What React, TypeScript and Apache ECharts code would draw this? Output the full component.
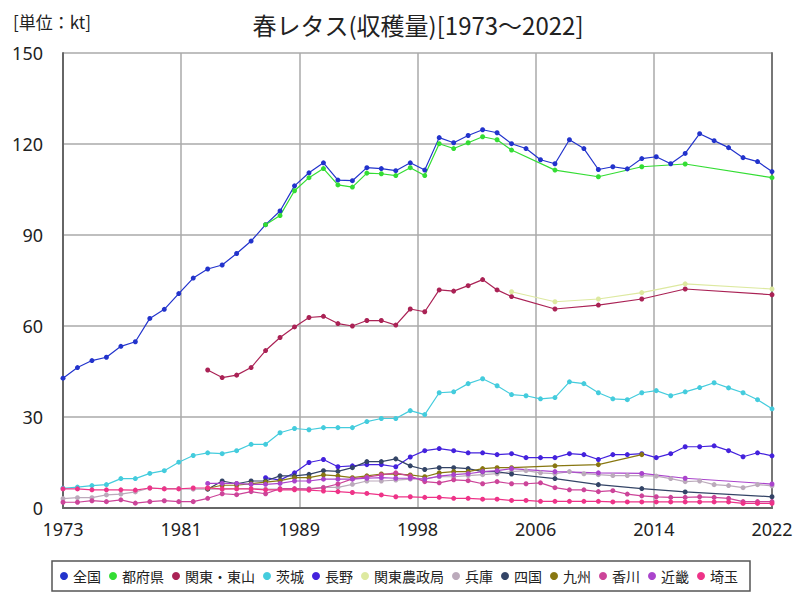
import React, { useEffect, useRef } from "react";
import * as echarts from "echarts";

const TITLE = "春レタス(収穫量)[1973～2022]";
const UNIT = "[単位：kt]";
const X_TICK_LABELS = ["1973", "1981", "1989", "1998", "2006", "2014", "2022"];
const Y_MIN = 0;
const Y_MAX = 150;
const Y_STEP = 30;

const yearsRange = (a: number, b: number) => {
  const r: number[] = [];
  for (let y = a; y <= b; y++) r.push(y);
  return r;
};
const YEARS_ALL = yearsRange(1973, 2022);
const YEARS_REGION_83 = [...yearsRange(1983, 2004), 2007, 2010, 2013, 2016, 2022];
const YEARS_TOFUKEN = [...yearsRange(1987, 2004), 2007, 2010, 2013, 2016, 2022];
const YEARS_NAGANO = yearsRange(1987, 2022);
const YEARS_KANTO_NOSEI = [2004, 2007, 2010, 2013, 2016, 2022];
const YEARS_KYUSHU = [...yearsRange(1983, 2004), 2007, 2010, 2013];

const zenkoku = [42.8, 46.3, 48.6, 49.7, 53.3, 54.8, 62.5, 65.5, 70.7, 75.8,
  78.8, 80.1, 83.9, 88.0, 93.4, 97.9, 106.2, 110.5, 113.8, 108.1,
  107.9, 112.2, 111.9, 111.2, 113.8, 111.4, 122.1, 120.4, 122.8, 124.7,
  123.7, 120.1, 118.5, 114.8, 113.5, 121.4, 118.5, 111.6, 112.5, 111.8,
  115.2, 115.8, 113.5, 116.9, 123.4, 121.1, 118.8, 115.5, 114.2, 110.9];
const tofuken = [93.4, 96.4, 104.6, 108.9, 111.9, 106.5, 105.8, 110.4, 110.2, 109.6,
  112.2, 109.6, 120.1, 118.5, 120.4, 122.4, 121.4, 118.0, 111.4, 109.2, 112.5, 113.4, 108.9];
const kantoTosan = [45.5, 43.0, 43.8, 46.3, 51.9, 56.2, 59.7, 62.8, 63.2, 60.8, 60.0,
  61.8, 61.8, 60.3, 65.6, 64.7, 71.9, 71.5, 73.3, 75.3, 71.9, 69.7, 65.6, 66.9, 68.9, 72.2, 70.3];
const ibaraki = [6.5, 6.9, 7.4, 7.7, 9.7, 9.7, 11.4, 12.3, 15.1, 17.3,
  18.2, 17.9, 18.9, 21.0, 21.0, 24.8, 26.2, 25.8, 26.5, 26.5,
  26.5, 28.5, 29.5, 29.5, 32.1, 30.8, 38.0, 38.3, 41.0, 42.6,
  40.3, 37.4, 37.0, 36.0, 36.4, 41.6, 41.0, 38.0, 36.0, 35.7,
  38.0, 38.7, 37.0, 38.3, 39.7, 41.3, 39.6, 38.0, 35.7, 32.7];
const nagano = [10.0, 9.2, 11.6, 15.0, 16.0, 13.6, 13.9, 14.3, 14.3, 13.6,
  16.8, 18.9, 19.6, 18.9, 18.2, 18.2, 17.6, 17.9, 16.6, 16.6,
  16.6, 17.9, 17.6, 16.0, 17.6, 17.6, 17.9, 16.6, 17.9, 20.2,
  20.2, 20.5, 18.9, 16.9, 18.2, 17.2];
const kantoNosei = [71.3, 68.0, 68.9, 71.0, 73.9, 72.2];
const hyogo = [3.1, 3.4, 3.4, 4.3, 4.6, 5.3, 6.6, 6.4, 6.4, 6.2,
  6.2, 6.2, 6.4, 6.4, 6.2, 6.2, 6.2, 6.4, 6.8, 6.8,
  7.8, 8.9, 8.9, 9.2, 9.5, 9.7, 10.3, 10.3, 10.7, 11.0,
  11.3, 12.0, 12.3, 11.6, 11.3, 12.0, 11.3, 11.0, 10.7, 10.7,
  10.7, 10.5, 9.7, 8.7, 8.9, 7.7, 7.4, 6.7, 7.7, 7.3];
const shikoku = [6.2, 8.9, 8.0, 8.9, 8.9, 10.6, 10.6, 11.1, 12.3, 12.1, 13.3,
  15.3, 15.3, 16.2, 13.9, 12.7, 13.3, 13.3, 13.0, 12.0, 12.0, 11.2, 9.7, 7.7, 6.4, 5.3, 3.7];
const kyushu = [6.5, 7.5, 7.5, 8.0, 8.5, 9.0, 10.0, 10.0, 10.9, 10.6, 10.0,
  10.6, 11.2, 11.2, 10.9, 10.3, 11.6, 12.0, 12.0, 13.0, 13.3, 13.3, 13.9, 14.3, 17.6];
const kagawa = [1.9, 1.9, 2.4, 2.1, 2.7, 1.6, 2.1, 2.4, 2.1, 2.1,
  3.2, 4.7, 4.4, 5.4, 4.7, 6.4, 6.4, 6.2, 6.7, 7.9,
  9.6, 10.2, 10.9, 11.6, 10.5, 8.7, 8.3, 9.3, 9.0, 8.0,
  8.7, 8.0, 8.0, 8.3, 6.7, 6.0, 6.0, 5.4, 5.7, 4.6,
  4.0, 3.7, 3.5, 3.5, 3.7, 3.5, 3.2, 2.1, 2.1, 2.1];
const kinki = [8.1, 8.1, 8.1, 7.8, 7.8, 8.1, 8.9, 8.9, 9.5, 9.5, 9.5,
  9.8, 10.0, 9.8, 9.8, 9.5, 10.5, 11.0, 11.3, 12.0, 12.3, 13.0, 12.0, 11.6, 11.4, 9.8, 7.9];
const saitama = [6.3, 6.3, 6.0, 6.0, 6.0, 5.9, 6.6, 6.3, 6.3, 6.6,
  6.6, 6.3, 6.3, 6.3, 6.0, 6.0, 6.0, 5.9, 5.6, 5.4,
  5.1, 4.8, 4.3, 3.7, 3.7, 3.5, 3.5, 3.2, 3.2, 2.9,
  2.9, 2.5, 2.5, 2.2, 2.2, 2.2, 2.2, 2.2, 2.0, 2.0,
  2.0, 2.0, 2.0, 2.0, 2.0, 2.0, 2.0, 1.5, 1.5, 1.5];

const SERIES_DEF: { name: string; years: number[]; values: number[]; color: string }[] = [
  { name: "全国", years: YEARS_ALL, values: zenkoku, color: "#2233cc" },
  { name: "都府県", years: YEARS_TOFUKEN, values: tofuken, color: "#33dd33" },
  { name: "関東・東山", years: YEARS_REGION_83, values: kantoTosan, color: "#aa2255" },
  { name: "茨城", years: YEARS_ALL, values: ibaraki, color: "#44ccdd" },
  { name: "長野", years: YEARS_NAGANO, values: nagano, color: "#4422dd" },
  { name: "関東農政局", years: YEARS_KANTO_NOSEI, values: kantoNosei, color: "#dde9a0" },
  { name: "兵庫", years: YEARS_ALL, values: hyogo, color: "#bbaabb" },
  { name: "四国", years: YEARS_REGION_83, values: shikoku, color: "#334466" },
  { name: "九州", years: YEARS_KYUSHU, values: kyushu, color: "#887711" },
  { name: "香川", years: YEARS_ALL, values: kagawa, color: "#cc4499" },
  { name: "近畿", years: YEARS_REGION_83, values: kinki, color: "#aa44cc" },
  { name: "埼玉", years: YEARS_ALL, values: saitama, color: "#ee3388" },
];

const NUM_FONT = "'Noto Sans', 'Noto Sans CJK JP', sans-serif";
const JP = "'Noto Sans CJK JP', sans-serif";

export default function App() {
  const ref = useRef<HTMLDivElement>(null);
  useEffect(() => {
    if (!ref.current) return;
    const chart = echarts.init(ref.current, null, { renderer: "svg" });
    const grid = { left: 63, right: 28, top: 53, bottom: 92 };
    chart.setOption({
      animation: false,
      backgroundColor: "#ffffff",
      grid,
      graphic: [
        {
          type: "text",
          x: 418,
          y: 24,
          style: {
            text: TITLE,
            fill: "#222",
            font: `24px ${JP}`,
            textAlign: "center",
            textVerticalAlign: "middle",
          },
        },
        {
          type: "text",
          x: 13,
          y: 21,
          style: {
            text: UNIT,
            fill: "#222",
            font: `17px ${JP}`,
            textAlign: "left",
            textVerticalAlign: "middle",
          },
        },
      ],
      legend: {
        show: true,
        left: 52,
        bottom: 9,
        orient: "horizontal",
        icon: "circle",
        itemWidth: 8,
        itemHeight: 8,
        itemGap: 8,
        padding: [8, 12, 8, 8],
        borderColor: "#555",
        borderWidth: 1.5,
        textStyle: { fontFamily: JP, fontSize: 14, color: "#222" },
        data: SERIES_DEF.map((s) => s.name),
      },
      xAxis: [
        {
          type: "category",
          data: X_TICK_LABELS,
          boundaryGap: false,
          axisLine: { show: true, lineStyle: { color: "#666", width: 2 } },
          axisTick: { show: false },
          axisLabel: { fontFamily: NUM_FONT, fontSize: 18, color: "#222", margin: 12 },
          splitLine: { show: true, lineStyle: { color: "#aaa", width: 1.5 } },
        },
        {
          type: "value",
          min: 1973,
          max: 2022,
          show: false,
          splitLine: { show: false },
        },
      ],
      yAxis: [
        {
          type: "value",
          min: Y_MIN,
          max: Y_MAX,
          interval: Y_STEP,
          axisLine: { show: true, lineStyle: { color: "#666", width: 2 } },
          axisTick: { show: false },
          axisLabel: { fontFamily: NUM_FONT, fontSize: 18, color: "#222", margin: 20 },
          splitLine: { show: true, lineStyle: { color: "#aaa", width: 1.5 } },
        },
        {
          type: "value",
          min: Y_MIN,
          max: Y_MAX,
          interval: Y_STEP,
          position: "right",
          axisLine: { show: true, lineStyle: { color: "#777", width: 2 } },
          axisTick: { show: false },
          axisLabel: { show: false },
          splitLine: { show: false },
        },
      ],
      series: SERIES_DEF.map((s) => ({
        name: s.name,
        type: "line",
        xAxisIndex: 1,
        yAxisIndex: 0,
        data: s.years.map((y, i) => [y, s.values[i]]),
        symbol: "circle",
        symbolSize: 5,
        showSymbol: true,
        color: s.color,
        lineStyle: { color: s.color, width: 1.2 },
        itemStyle: { color: s.color },
      })),
    });
    return () => chart.dispose();
  }, []);
  return <div ref={ref} style={{ width: 800, height: 600, position: "absolute", left: 0, top: 0 }} />;
}
